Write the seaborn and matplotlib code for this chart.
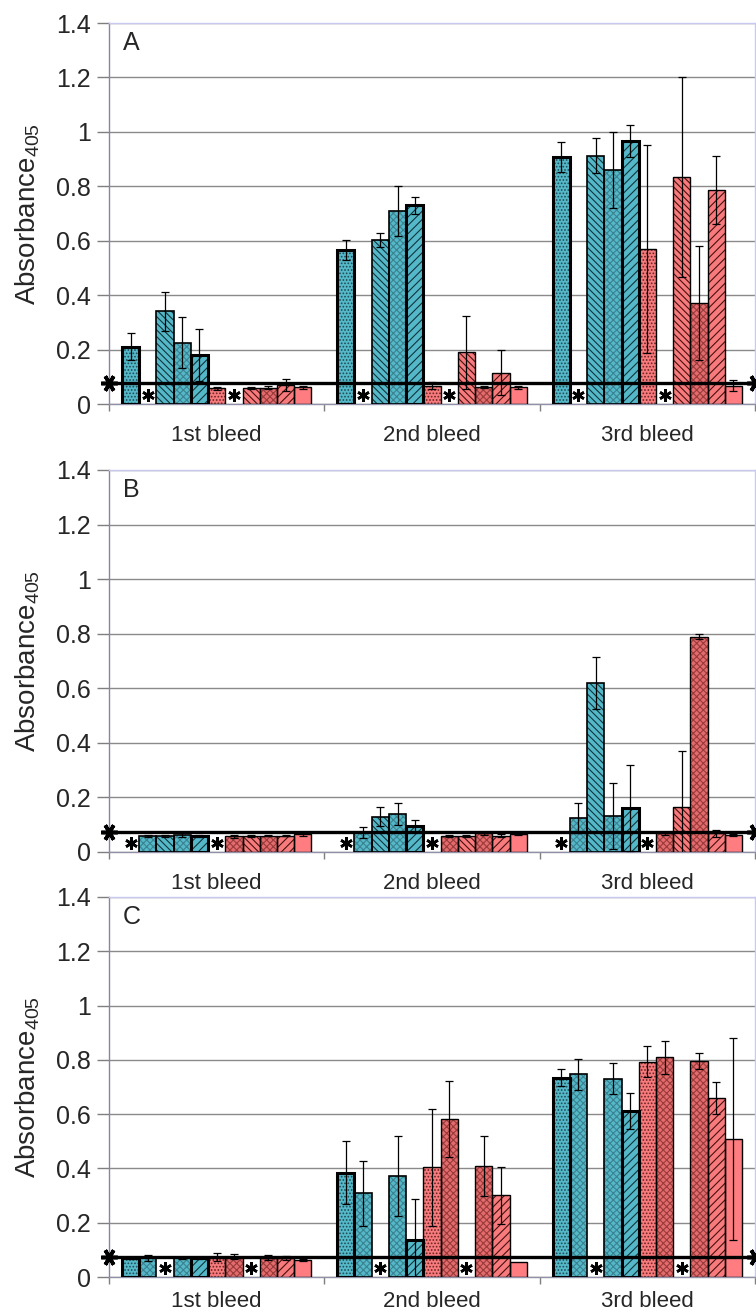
import numpy as np
import pandas as pd
import matplotlib
matplotlib.use("Agg")
import matplotlib.pyplot as plt
from matplotlib.patches import Rectangle
import seaborn as sns

# ---------------- data ----------------
bleeds = ["1st bleed", "2nd bleed", "3rd bleed"]
series = ["b1", "b2", "b3", "b4", "b5", "r1", "r2", "r3", "r4", "r5", "r6"]
panel_labels = ["A", "B", "C"]
y_ticks = [0, 0.2, 0.4, 0.6, 0.8, 1.0, 1.2, 1.4]
y_tick_labels = ["0", "0.2", "0.4", "0.6", "0.8", "1", "1.2", "1.4"]

# values per bleed (rows) and series slot (columns); None = not tested (*)
a_vals = [
    [0.21, None, 0.34, 0.225, 0.18, 0.058, None, 0.058, 0.06, 0.07, 0.062],
    [0.566, None, 0.603, 0.708, 0.73, 0.068, None, 0.19, 0.063, 0.115, 0.062],
    [0.907, None, 0.913, 0.86, 0.966, 0.569, None, 0.833, 0.372, 0.786, 0.068],
]
a_errs = [
    [0.05, 0, 0.07, 0.093, 0.095, 0.005, 0, 0.004, 0.005, 0.022, 0.006],
    [0.035, 0, 0.027, 0.092, 0.03, 0.012, 0, 0.135, 0.004, 0.082, 0.005],
    [0.055, 0, 0.063, 0.14, 0.06, 0.382, 0, 0.367, 0.21, 0.126, 0.022],
]
b_vals = [
    [None, 0.058, 0.058, 0.062, 0.058, None, 0.058, 0.058, 0.06, 0.06, 0.066],
    [None, 0.07, 0.13, 0.14, 0.097, None, 0.06, 0.06, 0.068, 0.06, 0.065],
    [None, 0.123, 0.619, 0.132, 0.161, None, 0.068, 0.163, 0.789, 0.068, 0.062],
]
b_errs = [
    [0, 0.003, 0.003, 0.006, 0.003, 0, 0.005, 0.003, 0.003, 0.003, 0.006],
    [0, 0.02, 0.036, 0.04, 0.022, 0, 0.004, 0.004, 0.006, 0.006, 0.003],
    [0, 0.055, 0.095, 0.121, 0.157, 0, 0.004, 0.206, 0.01, 0.012, 0.004],
]
c_vals = [
    [0.07, 0.07, None, 0.07, 0.07, 0.075, 0.075, None, 0.072, 0.07, 0.064],
    [0.385, 0.309, None, 0.373, 0.136, 0.404, 0.583, None, 0.41, 0.301, 0.056],
    [0.734, 0.747, None, 0.731, 0.611, 0.793, 0.809, None, 0.796, 0.659, 0.508],
]
c_errs = [
    [0.004, 0.012, 0, 0.004, 0.004, 0.015, 0.01, 0, 0.01, 0.006, 0.004],
    [0.117, 0.12, 0, 0.148, 0.153, 0.216, 0.14, 0, 0.11, 0.105, 0.0],
    [0.032, 0.058, 0, 0.058, 0.066, 0.057, 0.062, 0, 0.028, 0.06, 0.372],
]
baselines = [0.077, 0.074, 0.074]
star_y = 0.032

panels_vals = [a_vals, b_vals, c_vals]
panels_errs = [a_errs, b_errs, c_errs]

# ---------------- style ----------------
BLUE = "#55b8c9"
RED = "#f77b7d"
RED_D = "#e26b6d"
slot_face = [BLUE] * 5 + [RED, RED_D, RED, RED_D, RED, "#ff7c80"]
slot_hatch = [".....", "xxxxx", "\\\\\\\\\\", "xxxxx", "////",
              ".....", "xxxxx", "\\\\\\\\\\", "xxxxx", "////", None]
slot_hcol = ["#1d4e57", "#3a8290", "#10353d", "#3a8290", "#10353d",
             "#6a2222", "#9a3a3a", "#4a1010", "#9a3a3a", "#4a1010", "#4a1010"]
slot_lw = [2.2, 1.2, 1.2, 1.2, 2.2, 1.0, 1.0, 1.0, 1.0, 1.0, 1.0]
label_pads = [15, 15, 10]

sns.set_theme(style="white")
plt.rcParams["font.family"] = ["Liberation Sans", "DejaVu Sans"]
plt.rcParams["mathtext.fontset"] = "custom"
plt.rcParams["mathtext.rm"] = "Liberation Sans"
plt.rcParams["mathtext.default"] = "regular"
plt.rcParams["hatch.linewidth"] = 0.8

W = 0.88
n = len(series)
bw = W / n

fig = plt.figure(figsize=(7.56, 13.16), dpi=100)
boxes = [(0.693, 0.2895), (0.3526, 0.2903), (0.0296, 0.2888)]

for k in range(3):
    ax = fig.add_axes([0.1442, boxes[k][0], 0.8545, boxes[k][1]])
    vals, errs = panels_vals[k], panels_errs[k]
    rows = []
    for g, b in enumerate(bleeds):
        for s, name in enumerate(series):
            v = vals[g][s]
            if v is not None:
                rows.append({"bleed": b, "series": name, "value": v})
    df = pd.DataFrame(rows)
    pal = {name: slot_face[i] for i, name in enumerate(series)}
    sns.barplot(data=df, x="bleed", y="value", hue="series", order=bleeds,
                hue_order=series, palette=pal, width=W, errorbar=None,
                saturation=1, legend=False, ax=ax, zorder=2)

    for p in list(ax.patches):
        xc = p.get_x() + p.get_width() / 2
        h = p.get_height()
        g = int(round(xc))
        s = int(round((xc - g) / bw + (n - 1) / 2))
        p.set_linewidth(0)
        p.set_edgecolor(slot_hcol[s])
        if slot_hatch[s]:
            p.set_hatch(slot_hatch[s])
        ax.add_patch(Rectangle((p.get_x(), 0), p.get_width(), h, fill=False,
                               ec="black", lw=slot_lw[s], zorder=3))
        e = errs[g][s]
        if e > 0:
            ax.errorbar(xc, h, yerr=e, fmt="none", ecolor="black",
                        elinewidth=0.9, capsize=3, capthick=0.9, zorder=4)

    # asterisks for untested groups
    for g in range(3):
        for s in range(n):
            if vals[g][s] is None:
                ax.plot(g + (s - (n - 1) / 2) * bw, star_y, marker=(6, 2, 0),
                        ms=9, mew=1.9, color="black", ls="none", zorder=5)

    # cutoff line
    ax.plot([-0.5, 2.5], [baselines[k]] * 2, color="black", lw=2.4,
            marker=(6, 2, 90), ms=12, mew=2.6, clip_on=False, zorder=6)

    ax.set_xlim(-0.5, 2.5)
    ax.set_ylim(0, 1.4)
    ax.set_yticks(y_ticks)
    ax.set_yticklabels(y_tick_labels, fontsize=18)
    ax.set_xticks([0, 1, 2])
    ax.set_xticklabels(bleeds, fontsize=16)
    ax.set_xticks([-0.5, 0.5, 1.5, 2.5], minor=True)
    ax.tick_params(axis="x", which="major", length=0, pad=label_pads[k])
    ax.tick_params(axis="x", which="minor", length=5, color="#7f7f7f",
                   width=1, direction="out", bottom=True)
    ax.tick_params(axis="y", length=9, color="#7f7f7f", width=1,
                   direction="out", left=True, pad=4)
    ax.set_xlabel("")
    ax.set_ylabel("Absorbance$_{405}$", fontsize=20)
    ax.yaxis.set_label_coords(-0.104, 0.5)
    ax.yaxis.grid(True, color="#8a8a8a", lw=1)
    ax.set_axisbelow(True)
    ax.spines["left"].set_color("#8585a8")
    ax.spines["bottom"].set_color("#9090a8")
    ax.spines["top"].set_color("#c8c8f0")
    ax.spines["right"].set_color("#c8c8f0")
    for sp in ax.spines.values():
        sp.set_linewidth(1)
    ax.text(0.022, 0.978, panel_labels[k], transform=ax.transAxes,
            fontsize=18, va="top", ha="left")

fig.savefig("out.png", dpi=100)
